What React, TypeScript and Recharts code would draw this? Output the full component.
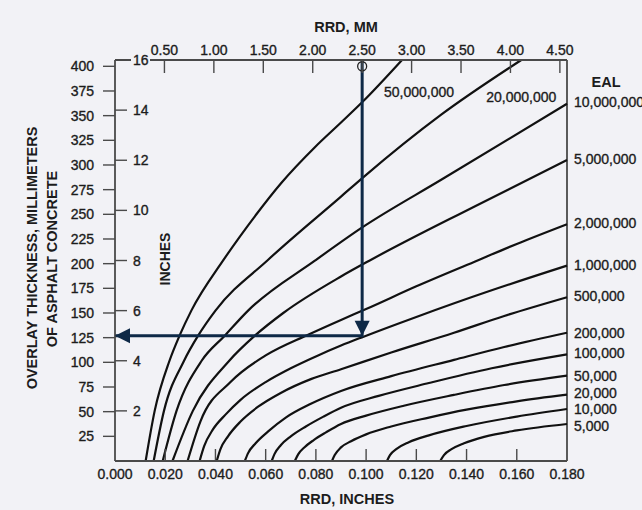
import React from "react";
import { LineChart, Line, XAxis, YAxis, ReferenceLine, ReferenceDot } from "recharts";

// RRD (inches) vs overlay thickness (mm), one array per EAL curve
const eal50M = [[0.0122, 0], [0.0158, 50.8], [0.0217, 101.6], [0.0257, 127], [0.0304, 152.4], [0.043, 203], [0.0557, 248], [0.0663, 282], [0.0796, 318], [0.09, 343], [0.0986, 364], [0.1143, 406.4]];
const eal20M = [[0.0154, 0], [0.0195, 50.8], [0.0275, 101.6], [0.0331, 127], [0.04, 152.4], [0.061, 204], [0.09, 268], [0.0986, 287], [0.1299, 351], [0.1618, 406.4]];
const eal10M = [[0.019, 0], [0.0245, 50.8], [0.0345, 101.6], [0.0437, 127], [0.053, 152.4], [0.0796, 203], [0.0986, 237], [0.1299, 285], [0.18, 362]];
const eal5M = [[0.0229, 0], [0.031, 50.8], [0.0455, 101.6], [0.0557, 127], [0.067, 150], [0.09, 187], [0.102, 204], [0.1432, 258], [0.18, 305]];
const eal2M = [[0.0289, 0], [0.034, 40], [0.046, 80], [0.06, 107], [0.0769, 128], [0.09, 143], [0.1, 154], [0.12, 177], [0.1432, 202], [0.16, 220], [0.18, 240]];
const eal1M = [[0.0337, 0], [0.0355, 15], [0.039, 32], [0.044, 47], [0.05, 62], [0.06, 80], [0.07, 94], [0.08, 106], [0.09, 117], [0.099, 126], [0.12, 146], [0.15, 173], [0.18, 198]];
const eal500k = [[0.0405, 0], [0.042, 12], [0.045, 25], [0.05, 40], [0.057, 55], [0.066, 69], [0.078, 83], [0.09, 93], [0.11, 110], [0.135, 130], [0.155, 147], [0.18, 166]];
const eal200k = [[0.0517, 0], [0.053, 8], [0.056, 18], [0.061, 30], [0.068, 44], [0.078, 58], [0.09, 71], [0.11, 86], [0.135, 102.5], [0.155, 115.5], [0.18, 130]];
const eal100k = [[0.0624, 0], [0.0635, 7], [0.066, 16], [0.07, 25], [0.076, 35], [0.083, 45], [0.09, 54], [0.105, 66], [0.125, 79], [0.15, 94], [0.18, 108]];
const eal50k = [[0.0716, 0], [0.073, 7], [0.0755, 14], [0.079, 21], [0.084, 29], [0.09, 37.5], [0.1, 46], [0.115, 56], [0.135, 67], [0.155, 77], [0.18, 86.5]];
const eal20k = [[0.0864, 0], [0.0875, 6], [0.09, 13.8], [0.094, 20], [0.1, 27], [0.11, 35], [0.125, 44], [0.14, 52], [0.16, 60.5], [0.18, 67.2]];
const eal10k = [[0.1083, 0], [0.1095, 6], [0.112, 12], [0.117, 19], [0.125, 26], [0.14, 35.5], [0.16, 45], [0.18, 52.7]];
const eal5k = [[0.1295, 0], [0.131, 6], [0.134, 12], [0.139, 18], [0.147, 24.5], [0.16, 31], [0.18, 37.5]];

const mmTicks = [25, 50, 75, 100, 125, 150, 175, 200, 225, 250, 275, 300, 325, 350, 375, 400];
const inchTicks = [2, 4, 6, 8, 10, 12, 14, 16];
const rrdInchTicks = [0, 0.02, 0.04, 0.06, 0.08, 0.1, 0.12, 0.14, 0.16, 0.18];
const rrdMmTicks = [0.5, 1, 1.5, 2, 2.5, 3, 3.5, 4, 4.5];

// worked example: 2.50 mm RRD at 1,000,000 EAL -> 5 in overlay
const exampleRrdMm = 2.5;
const exampleOverlayIn = 5;
const examplePath = [
  { x: exampleRrdMm, y: 16 },
  { x: exampleRrdMm, y: exampleOverlayIn },
  { x: 0, y: exampleOverlayIn },
];

const TOP_MM = 406.4; // 16 inches
const MAX_IN = 0.18;

const curves = [
  { label: "50,000,000", pts: eal50M, dx: -18, dy: 32 },
  { label: "20,000,000", pts: eal20M, dx: -35, dy: 37 },
  { label: "10,000,000", pts: eal10M, dx: 7, dy: -2 },
  { label: "5,000,000", pts: eal5M, dx: 7, dy: -1 },
  { label: "2,000,000", pts: eal2M, dx: 7, dy: -1 },
  { label: "1,000,000", pts: eal1M, dx: 7, dy: -1 },
  { label: "500,000", pts: eal500k, dx: 7, dy: -1 },
  { label: "200,000", pts: eal200k, dx: 7, dy: 0 },
  { label: "100,000", pts: eal100k, dx: 7, dy: -1 },
  { label: "50,000", pts: eal50k, dx: 7, dy: 0 },
  { label: "20,000", pts: eal20k, dx: 7, dy: -2 },
  { label: "10,000", pts: eal10k, dx: 7, dy: 0 },
  { label: "5,000", pts: eal5k, dx: 7, dy: 1.5 },
];

const FONT = "'Liberation Sans', Arial, sans-serif";
const INK = "#1c1c1c";
const AXIS = "#4a4a4a";
const NAVY = "#0e2947";
const BG = "#f2f2f6";
const txt = { fontSize: 14, fontFamily: FONT, fill: INK, stroke: INK, strokeWidth: 0.35 };

function BottomTick(props: any) {
  const { x, y, payload } = props;
  const v = payload.value;
  const edge = v === 0 || v === MAX_IN;
  return (
    <g>
      {!edge && <line x1={x} y1={y} x2={x} y2={y - 12} stroke={AXIS} strokeWidth={1.4} />}
      <text x={x} y={y + 17.5} textAnchor="middle" {...txt}>
        {v.toFixed(3)}
      </text>
    </g>
  );
}

function TopTick(props: any) {
  const { x, y, payload } = props;
  return (
    <g>
      <line x1={x} y1={y} x2={x} y2={y + 13} stroke={AXIS} strokeWidth={1.4} />
      <text x={x} y={y - 5} textAnchor="middle" {...txt}>
        {payload.value.toFixed(2)}
      </text>
    </g>
  );
}

function InchTick(props: any) {
  const { x, y, payload } = props;
  const v = payload.value;
  return (
    <g>
      {v === 16 && <rect x={x - 2} y={y - 6} width={19} height={12} fill={BG} />}
      <text x={x} y={y} dy="0.36em" textAnchor="start" {...txt}>
        {v}
      </text>
    </g>
  );
}

function MmTick(props: any) {
  const { x, y, payload } = props;
  return (
    <text x={x} y={y} dy="0.36em" textAnchor="end" {...txt}>
      {payload.value}
    </text>
  );
}

// arrowheads at the corner (pointing down) and at the axis (pointing left)
function ArrowHead(p: any) {
  const { cx, cy, index } = p;
  if (index === 1) {
    return <polygon key="h1" points={`${cx},${cy} ${cx - 7.5},${cy - 15} ${cx + 7.5},${cy - 15}`} fill={NAVY} />;
  }
  if (index === 2) {
    return <polygon key="h2" points={`${cx},${cy} ${cx + 15},${cy - 7.5} ${cx + 15},${cy + 7.5}`} fill={NAVY} />;
  }
  return <g key={`h${index}`} />;
}

function endLabel(label: string, last: number, dx: number, dy: number) {
  return (p: any) => {
    if (p.index !== last) return <g key={`d${p.index}`} />;
    return (
      <text key={`d${p.index}`} x={p.cx + dx} y={p.cy + dy} dy="0.36em" {...txt}>
        {label}
      </text>
    );
  };
}

export default function App() {
  return (
    <div style={{ position: "absolute", left: 0, top: 0, width: 642, height: 510, background: BG }}>
      <LineChart width={642} height={510} margin={{ top: 0, right: 75, bottom: 0, left: 0 }}>
        <XAxis
          xAxisId="in"
          dataKey="x"
          type="number"
          domain={[0, MAX_IN]}
          ticks={rrdInchTicks}
          orientation="bottom"
          height={49}
          tickSize={0}
          tickMargin={0}
          tickLine={false}
          tick={<BottomTick />}
          axisLine={{ stroke: AXIS, strokeWidth: 1.8 }}
          interval={0}
        />
        <XAxis
          xAxisId="mm"
          dataKey="x"
          type="number"
          domain={[0, MAX_IN * 25.4]}
          ticks={rrdMmTicks}
          orientation="top"
          height={60}
          tickSize={0}
          tickMargin={0}
          tickLine={false}
          tick={<TopTick />}
          axisLine={{ stroke: AXIS, strokeWidth: 1.8 }}
          interval={0}
        />
        <YAxis
          yAxisId="mm"
          type="number"
          domain={[0, TOP_MM]}
          ticks={mmTicks}
          width={115}
          tickSize={12}
          tickMargin={9}
          interval={0}
          tickLine={{ stroke: AXIS, strokeWidth: 1.4 }}
          axisLine={{ stroke: AXIS, strokeWidth: 1.8 }}
          tick={<MmTick />}
        />
        <YAxis
          yAxisId="in"
          type="number"
          domain={[0, 16]}
          ticks={inchTicks}
          mirror
          tickSize={12}
          tickMargin={6}
          interval={0}
          axisLine={false}
          tickLine={{ stroke: AXIS, strokeWidth: 1.4 }}
          tick={<InchTick />}
        />
        <ReferenceLine xAxisId="in" yAxisId="mm" x={MAX_IN} stroke={AXIS} strokeWidth={1.8} />
        {curves.map((c) => (
          <Line
            key={c.label}
            xAxisId="in"
            yAxisId="mm"
            data={c.pts.map(([x, y]) => ({ x, y }))}
            dataKey="y"
            type="monotone"
            stroke="#111"
            strokeWidth={2.2}
            dot={endLabel(c.label, c.pts.length - 1, c.dx, c.dy)}
            activeDot={false}
            isAnimationActive={false}
          />
        ))}
        <Line
          xAxisId="mm"
          yAxisId="in"
          data={examplePath}
          dataKey="y"
          type="linear"
          stroke={NAVY}
          strokeWidth={3}
          dot={ArrowHead}
          activeDot={false}
          isAnimationActive={false}
        />
        <ReferenceDot
          xAxisId="mm"
          yAxisId="in"
          x={exampleRrdMm}
          y={15.75}
          r={4.5}
          fill="none"
          stroke="#222"
          strokeWidth={1.3}
        />
      </LineChart>
      <svg
        width={642}
        height={510}
        style={{ position: "absolute", left: 0, top: 0, pointerEvents: "none" }}
        fontFamily={FONT}
        fill={INK}
        fontWeight="bold"
        fontSize={14.5}
      >
        <text x={346} y={32} textAnchor="middle">RRD, MM</text>
        <text x={347} y={504} textAnchor="middle">RRD, INCHES</text>
        <text x={606} y={87} textAnchor="middle">EAL</text>
        <text transform="translate(37,258) rotate(-90)" textAnchor="middle">
          OVERLAY THICKNESS, MILLIMETERS
        </text>
        <text transform="translate(57,259) rotate(-90)" textAnchor="middle">
          OF ASPHALT CONCRETE
        </text>
        <text transform="translate(170,259) rotate(-90)" textAnchor="middle" fontSize={14}>
          INCHES
        </text>
      </svg>
    </div>
  );
}
